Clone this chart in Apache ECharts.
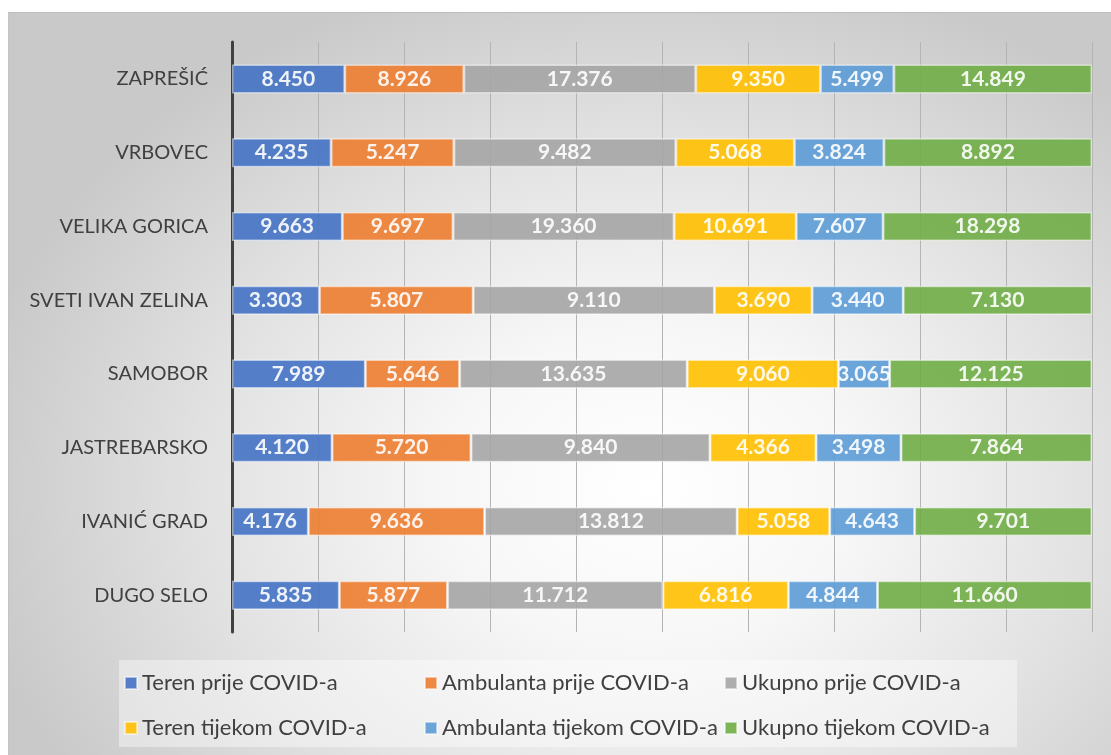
<!DOCTYPE html>
<html><head><meta charset="utf-8">
<script src="https://cdn.jsdelivr.net/npm/echarts@6/dist/echarts.min.js"></script>
<style>
html,body{margin:0;padding:0;background:#fff;width:1111px;height:755px;overflow:hidden;}
#bg{position:absolute;left:8px;top:12px;width:1103px;height:743px;box-sizing:border-box;border-top:1px solid #bdbdbd;border-left:1px solid #c4c4c4;
background:radial-gradient(ellipse 62% 72% at 58% 64%, #ffffff 0%, #f7f7f7 30%, #e2e2e2 65%, #c9c9c9 100%);}
#chart{position:absolute;left:0;top:0;width:1111px;height:755px;}
</style></head>
<body><div id="bg"></div><div id="chart"></div>
<script>
const categories = ['DUGO SELO','IVANIĆ GRAD','JASTREBARSKO','SAMOBOR','SVETI IVAN ZELINA','VELIKA GORICA','VRBOVEC','ZAPREŠIĆ'];
const seriesNames = ['Teren prije COVID-a','Ambulanta prije COVID-a','Ukupno prije COVID-a','Teren tijekom COVID-a','Ambulanta tijekom COVID-a','Ukupno tijekom COVID-a'];
const terenPrije      = [5835, 4176, 4120, 7989, 3303, 9663, 4235, 8450];
const ambulantaPrije  = [5877, 9636, 5720, 5646, 5807, 9697, 5247, 8926];
const ukupnoPrije     = [11712, 13812, 9840, 13635, 9110, 19360, 9482, 17376];
const terenTijekom    = [6816, 5058, 4366, 9060, 3690, 10691, 5068, 9350];
const ambulantaTijekom= [4844, 4643, 3498, 3065, 3440, 7607, 3824, 5499];
const ukupnoTijekom   = [11660, 9701, 7864, 12125, 7130, 18298, 8892, 14849];
const xTicks = [0,10,20,30,40,50,60,70,80,90,100];

const raw = [terenPrije, ambulantaPrije, ukupnoPrije, terenTijekom, ambulantaTijekom, ukupnoTijekom];
const colors = ['#4472C4','#ED7D31','#A5A5A5','#FFC000','#5B9BD5','#70AD47'];
const totals = categories.map((c,i)=>raw.reduce((s,a)=>s+a[i],0));
function fmt(v){return Math.floor(v/1000)+'.'+String(v%1000).padStart(3,'0');}

const FONT = 'Lato';
const series = raw.map((arr,k)=>({
  name: seriesNames[k], type:'bar', stack:'all', barWidth:29,
  data: arr.map((v,i)=>v/totals[i]*100),
  itemStyle:{color:colors[k], opacity:0.9, borderColor:'rgba(255,255,255,0.55)', borderWidth:1.5},
  label:{show:true, position:'inside', color:'#fff', fontFamily:FONT, fontWeight:'bold', fontSize:21,
    formatter:p=>fmt(arr[p.dataIndex])},
  emphasis:{disabled:true}
}));

const legendCommon = {orient:'vertical', top:670, padding:0, itemWidth:12, itemHeight:12, itemGap:19, icon:'rect',
  textStyle:{fontFamily:FONT, fontSize:22, color:'#404040', lineHeight:26}, selectedMode:false};

const chart = echarts.init(document.getElementById('chart'), null, {renderer:'canvas'});
chart.setOption({
  animation:false,
  backgroundColor:'transparent',
  graphic:[{type:'rect', shape:{x:119, y:660, width:898, height:87}, style:{fill:'rgba(255,255,255,0.4)'}, z:-10, silent:true}],
  grid:{left:232, right:19, top:42, height:590, containLabel:false},
  xAxis:{type:'value', min:xTicks[0], max:xTicks[xTicks.length-1], interval:xTicks[1]-xTicks[0],
    axisLabel:{show:false}, axisLine:{show:false}, axisTick:{show:false},
    splitLine:{show:true, lineStyle:{color:'#b4b4b4', width:1}}},
  yAxis:{type:'category', data:categories,
    axisLine:{show:true, lineStyle:{color:'#404040', width:3}}, axisTick:{show:false},
    axisLabel:{fontFamily:FONT, fontSize:20, color:'#404040', margin:24}},
  legend:[
    Object.assign({left:124, data:[seriesNames[0], seriesNames[3]]}, legendCommon),
    Object.assign({left:424, data:[seriesNames[1], seriesNames[4]]}, legendCommon),
    Object.assign({left:724, data:[seriesNames[2], seriesNames[5]]}, legendCommon)
  ],
  series: series
});
</script></body></html>
